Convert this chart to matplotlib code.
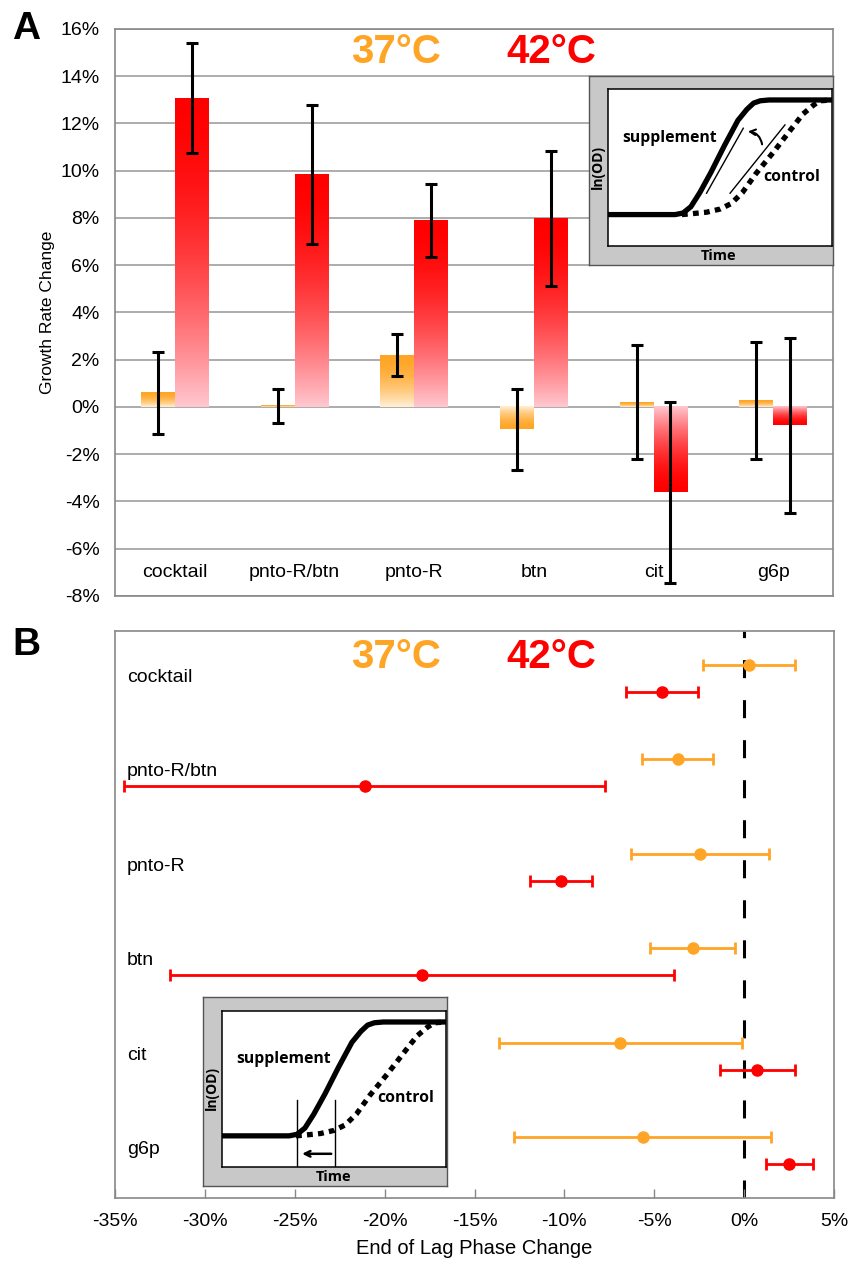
import numpy as np
import matplotlib
matplotlib.use("Agg")
import matplotlib.pyplot as plt
from matplotlib.colors import to_rgb
from matplotlib.ticker import FuncFormatter

plt.rcParams['font.family'] = ['Liberation Sans', 'DejaVu Sans']

categories = ['cocktail', 'pnto-R/btn', 'pnto-R', 'btn', 'cit', 'g6p']

# growth rate change (%), panel A
growth_37 = [0.6, 0.05, 2.2, -0.95, 0.2, 0.28]
growth_37_err = [1.74, 0.72, 0.9, 1.71, 2.42, 2.47]
growth_42 = [13.07, 9.85, 7.9, 7.97, -3.6, -0.77]
growth_42_err = [2.33, 2.94, 1.54, 2.87, 3.83, 3.7]

# end of lag phase change (%), panel B
lag_37 = [0.25, -3.69, -2.45, -2.87, -6.89, -5.64]
lag_37_err = [2.56, 1.98, 3.83, 2.34, 6.75, 7.16]
lag_42 = [-4.56, -21.12, -10.2, -17.93, 0.74, 2.52]
lag_42_err = [1.99, 13.38, 1.72, 14.03, 2.09, 1.33]

# schematic growth curves for the insets (axes fraction units)
supp_x = [0, 0.30, 0.335, 0.37, 0.41, 0.46, 0.52, 0.58, 0.62, 0.65, 0.68, 0.72, 1.0]
supp_y = [0.2, 0.2, 0.21, 0.25, 0.34, 0.47, 0.64, 0.80, 0.87, 0.91, 0.925, 0.93, 0.93]
ctrl_x = [0.33, 0.37, 0.44, 0.50, 0.55, 0.60, 0.66, 0.74, 0.81, 0.87, 0.92, 0.95, 1.0]
ctrl_y = [0.2, 0.205, 0.215, 0.235, 0.27, 0.34, 0.46, 0.60, 0.73, 0.84, 0.9, 0.925, 0.93]

ORANGE = '#FFA526'
RED = '#FF0000'
GRID = '#A6A6A6'
SPINE = '#888888'


def pct(v, _):
    return f"{v:.0f}%"


def gradient_bar(ax, x, value, width, full, pale):
    t = np.linspace(0, 1, 256)
    w = 1 - (1 - t) ** 1.8
    c0, c1 = np.array(to_rgb(pale)), np.array(to_rgb(full))
    img = (c0 + (c1 - c0) * w[:, None])[:, None, :]
    if value >= 0:
        ax.imshow(img, extent=(x - width / 2, x + width / 2, 0, value),
                  origin='lower', aspect='auto', zorder=2, interpolation='bilinear')
    else:
        ax.imshow(img, extent=(x - width / 2, x + width / 2, value, 0),
                  origin='upper', aspect='auto', zorder=2, interpolation='bilinear')


def draw_inset(fig, outer_rect, inner_rect):
    outer = fig.add_axes(outer_rect)
    outer.set_facecolor('#C8C8C8')
    outer.set_xticks([])
    outer.set_yticks([])
    for s in outer.spines.values():
        s.set_color('#555555')
        s.set_linewidth(1)
    outer.text(0.037, 0.52, 'ln(OD)', rotation=90, ha='center', va='center',
               fontsize=10, fontweight='bold', family='Open Sans', transform=outer.transAxes)
    outer.text(0.533, 0.05, 'Time', ha='center', va='center',
               fontsize=10.5, fontweight='bold', family='Open Sans', transform=outer.transAxes)

    inner = fig.add_axes(inner_rect)
    inner.set_xlim(0, 1)
    inner.set_ylim(0, 1)
    inner.set_xticks([])
    inner.set_yticks([])
    for s in inner.spines.values():
        s.set_color('black')
        s.set_linewidth(1.1)
    inner.plot(ctrl_x, ctrl_y, color='black', lw=3.8, linestyle=(0, (1.1, 1.0)),
               solid_capstyle='butt')
    inner.plot(supp_x, supp_y, color='black', lw=3.8, solid_joinstyle='round')
    inner.text(0.275, 0.69, 'supplement', ha='center', va='center',
               fontsize=11.3, fontweight='bold', family='Open Sans')
    inner.text(0.82, 0.44, 'control', ha='center', va='center',
               fontsize=11.3, fontweight='bold', family='Open Sans')
    return inner


fig = plt.figure(figsize=(8.52, 12.64), dpi=100)

# ---- panel A: growth rate change bars ----
axA = fig.add_axes([0.135, 0.5285, 0.8427, 0.4486])
xs = np.arange(len(categories))
bw = 0.284
for i in xs:
    gradient_bar(axA, i - bw / 2, growth_37[i], bw, ORANGE, '#FFF0D8')
    gradient_bar(axA, i + bw / 2, growth_42[i], bw, RED, '#FFC8D0')
axA.errorbar(xs - bw / 2, growth_37, yerr=growth_37_err, fmt='none', ecolor='black',
             elinewidth=2.2, capsize=4, capthick=2.2, zorder=4)
axA.errorbar(xs + bw / 2, growth_42, yerr=growth_42_err, fmt='none', ecolor='black',
             elinewidth=2.2, capsize=4, capthick=2.2, zorder=4)
axA.set_xlim(-0.5, len(categories) - 0.5)
axA.set_ylim(-8, 16)
axA.set_yticks(np.arange(-8, 17, 2))
axA.yaxis.set_major_formatter(FuncFormatter(pct))
axA.set_xticks([])
axA.tick_params(axis='y', length=0, pad=11, labelsize=14)
axA.grid(axis='y', color=GRID, lw=1.3)
axA.set_axisbelow(True)
for s in axA.spines.values():
    s.set_color(SPINE)
    s.set_linewidth(1.2)
for i, name in enumerate(categories):
    axA.text(i, -7.0, name, ha='center', va='center', fontsize=14)
axA.set_ylabel('Growth Rate Change', fontsize=12.5, labelpad=4)
axA.text(0.391, 0.959, '37°C', color=ORANGE, fontsize=29, fontweight='bold',
         ha='center', va='center', transform=axA.transAxes)
axA.text(0.607, 0.959, '42°C', color=RED, fontsize=29, fontweight='bold',
         ha='center', va='center', transform=axA.transAxes)

insA = draw_inset(fig, [0.6913, 0.7903, 0.2864, 0.1495], [0.7136, 0.8054, 0.2629, 0.1242])
insA.plot([0.44, 0.604], [0.336, 0.75], color='black', lw=1)
insA.plot([0.545, 0.79], [0.336, 0.771], color='black', lw=1)
insA.annotate('', xy=(0.612, 0.73), xytext=(0.69, 0.63),
              arrowprops=dict(arrowstyle='->', color='black', lw=1.5,
                              connectionstyle='arc3,rad=0.45'))

# ---- panel B: end of lag phase change ----
axB = fig.add_axes([0.135, 0.0522, 0.8439, 0.4486])
ys = np.arange(len(categories))
off = 0.143
axB.axvline(0, color='black', lw=2.2, dashes=(5.9, 7.2), zorder=1)
axB.errorbar(lag_37, ys - off, xerr=lag_37_err, fmt='o', color=ORANGE, ms=8,
             elinewidth=2, capsize=4, capthick=2, zorder=3)
axB.errorbar(lag_42, ys + off, xerr=lag_42_err, fmt='o', color=RED, ms=8,
             elinewidth=2, capsize=4, capthick=2, zorder=3)
axB.set_xlim(-35, 5)
axB.set_ylim(len(categories) - 0.5, -0.5)
axB.set_yticks([])
axB.set_xticks(np.arange(-35, 6, 5))
axB.xaxis.set_major_formatter(FuncFormatter(pct))
axB.tick_params(axis='x', direction='in', length=6.5, width=1, color=SPINE,
                pad=11, labelsize=14)
for s in axB.spines.values():
    s.set_color(SPINE)
    s.set_linewidth(1.2)
for i, name in enumerate(categories):
    axB.text(-34.35, i - 0.01, name, ha='left', va='center', fontsize=14)
axB.set_xlabel('End of Lag Phase Change', fontsize=14.5, labelpad=6)
axB.text(0.391, 0.954, '37°C', color=ORANGE, fontsize=29, fontweight='bold',
         ha='center', va='center', transform=axB.transAxes)
axB.text(0.607, 0.954, '42°C', color=RED, fontsize=29, fontweight='bold',
         ha='center', va='center', transform=axB.transAxes)

insB = draw_inset(fig, [0.2383, 0.0617, 0.2864, 0.1495], [0.2606, 0.0767, 0.2629, 0.1234])
insB.plot([0.333, 0.333], [0, 0.43], color='black', lw=1)
insB.plot([0.504, 0.504], [0, 0.43], color='black', lw=1)
insB.annotate('', xy=(0.345, 0.085), xytext=(0.5, 0.085),
              arrowprops=dict(arrowstyle='->', color='black', lw=1.8))

fig.text(26 / 852, 1 - 29 / 1264, 'A', fontsize=28, fontweight='bold', ha='center', va='center')
fig.text(26 / 852, 1 - 645 / 1264, 'B', fontsize=28, fontweight='bold', ha='center', va='center')

fig.savefig('out.png', dpi=100)
